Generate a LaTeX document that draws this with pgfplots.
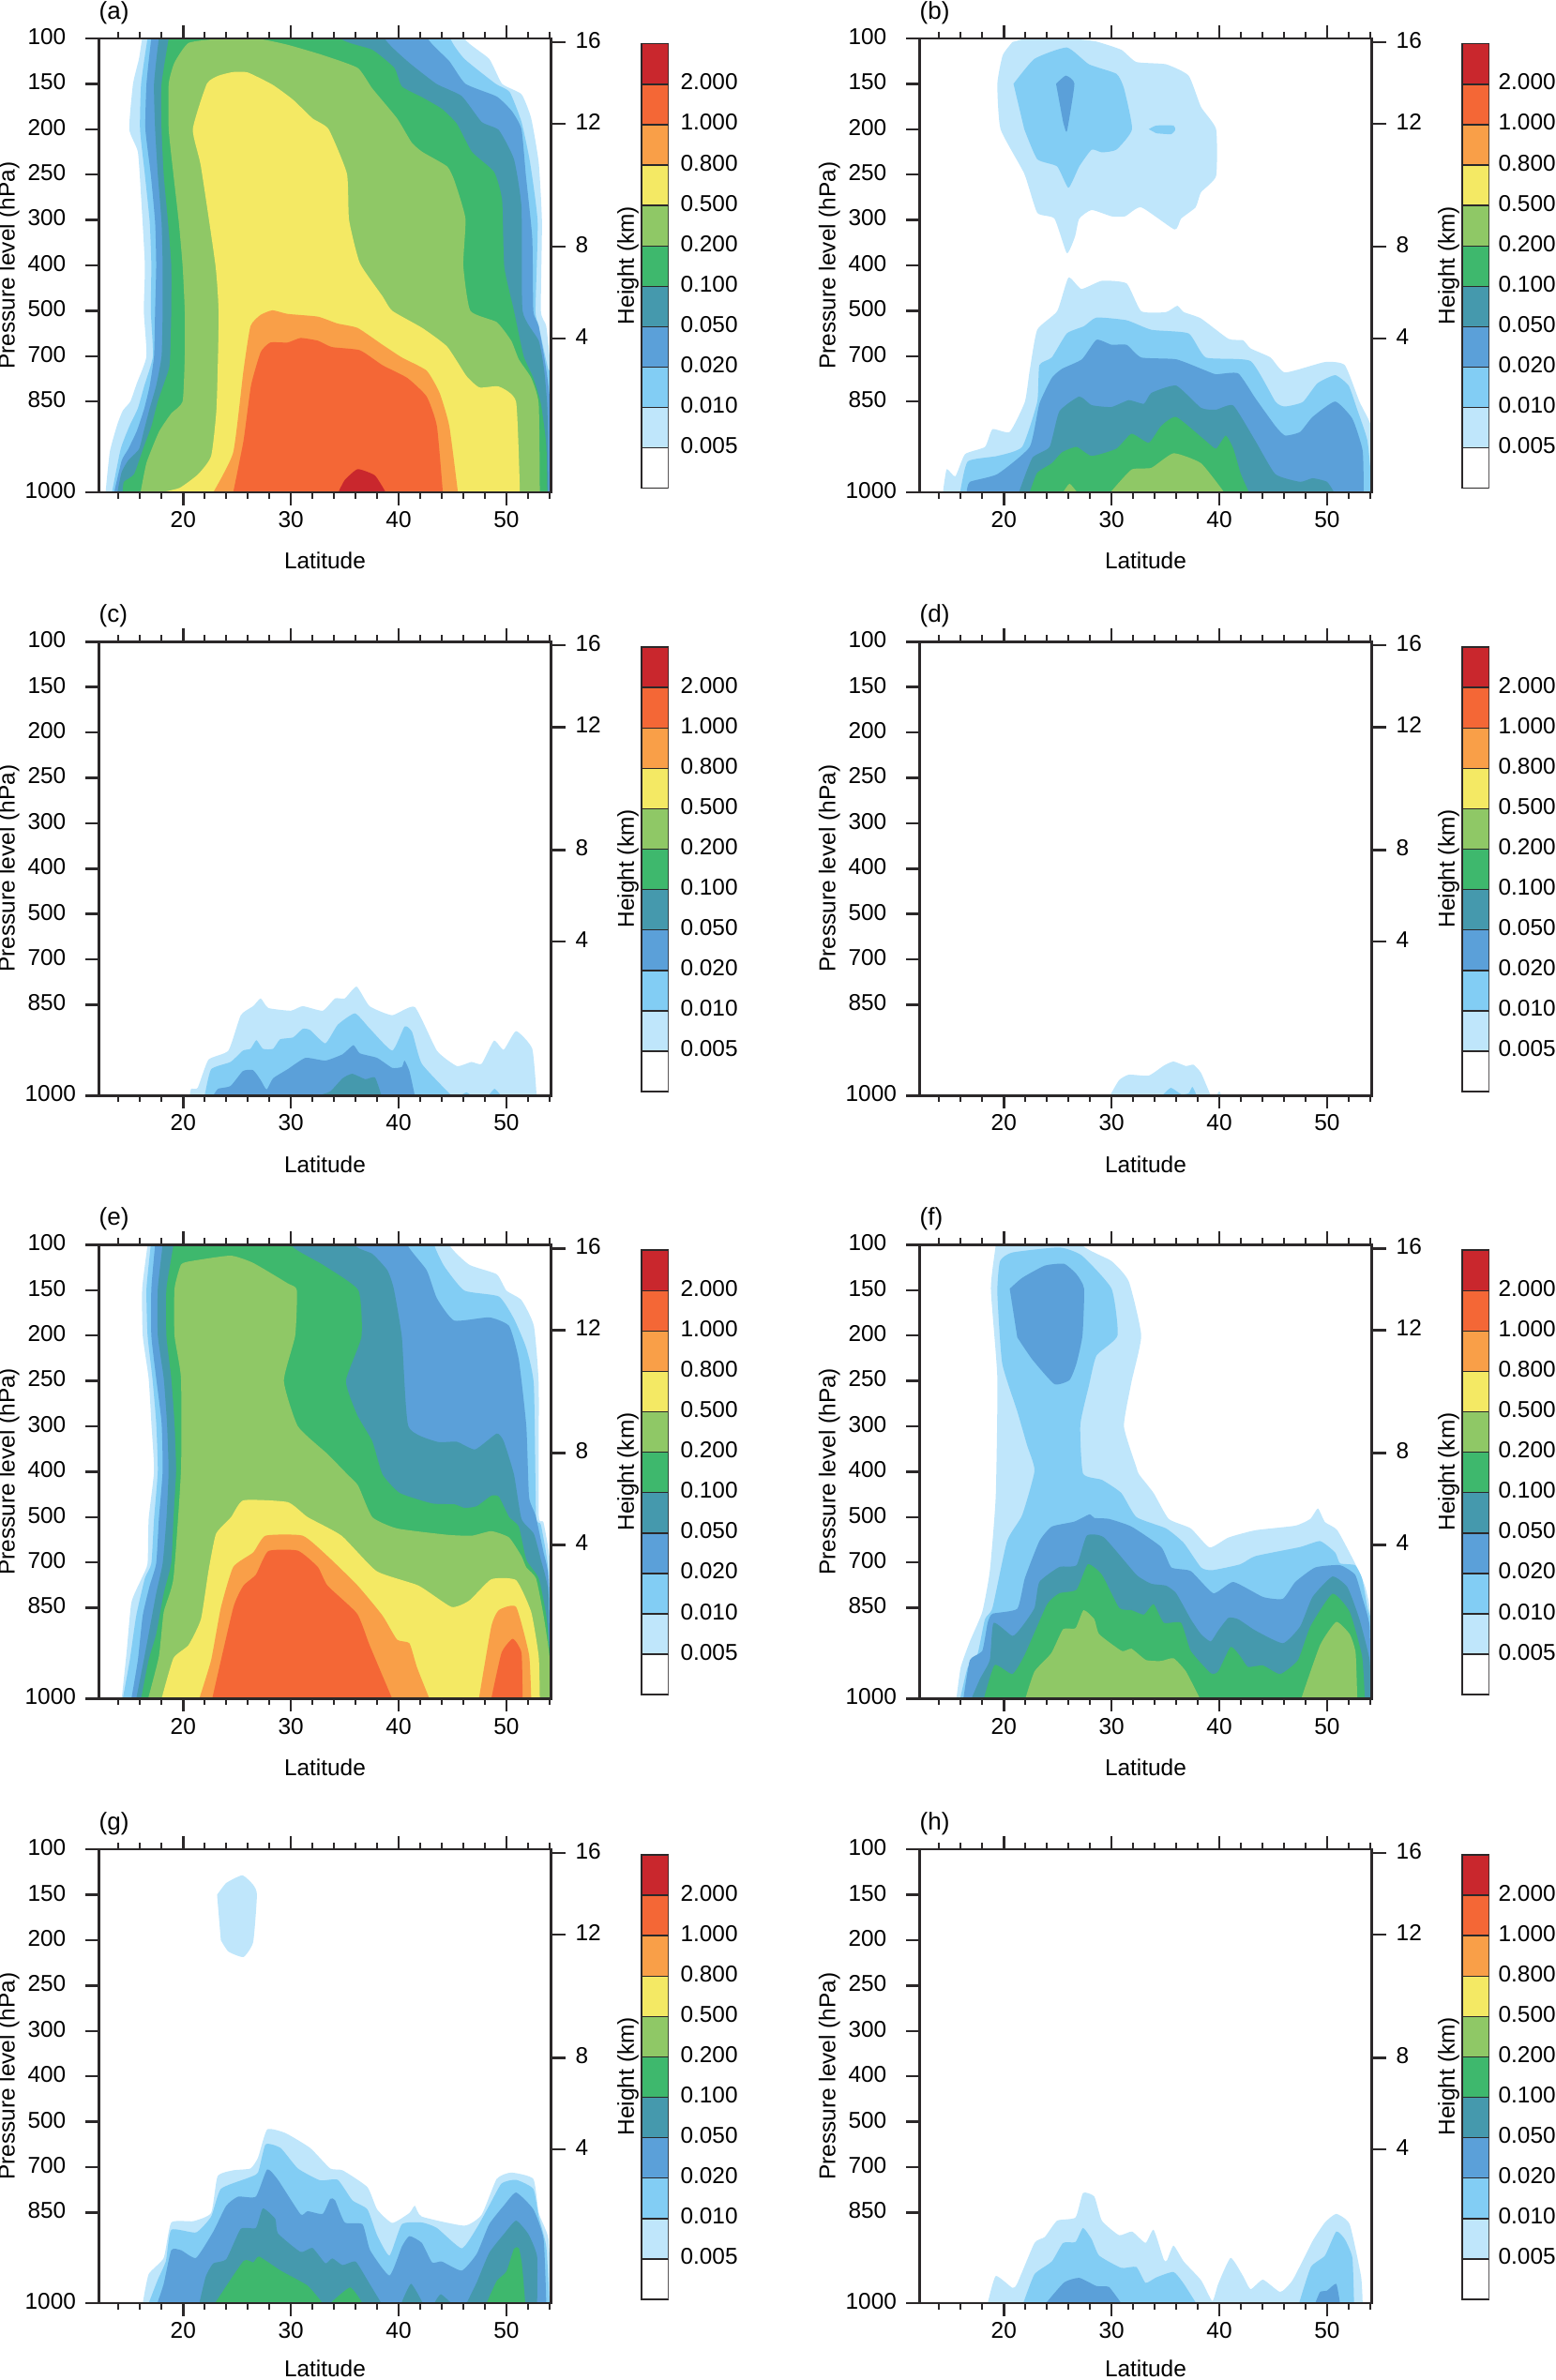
\documentclass[border=0pt]{standalone}
\usepackage{fontspec}
\setmainfont{Liberation Sans}
\usepackage{pgfplots}
\pgfplotsset{compat=1.18}

\definecolor{ink}{HTML}{2B2829}
\definecolor{c005}{HTML}{BFE6FB}
\definecolor{c010}{HTML}{82CDF4}
\definecolor{c020}{HTML}{5BA0D9}
\definecolor{c050}{HTML}{4599AD}
\definecolor{c100}{HTML}{3EB86D}
\definecolor{c200}{HTML}{8FC866}
\definecolor{c500}{HTML}{F4E964}
\definecolor{c800}{HTML}{F99F48}
\definecolor{c1k}{HTML}{F46736}
\definecolor{c2k}{HTML}{C9272D}

% one filled contour level; x is latitude, y is the position on the level axis
% (100 hPa = 0, 150 = 1, ... 850 = 8, 1000 = 10; -1 is outside the frame, above it)
\newcommand\lv[2]{\addplot[draw=none,fill=#1,mark=none,forget plot,smooth,tension=.3] coordinates {#2} -- cycle;}

\newcommand\panelA{
\lv{c005}{(54.5,10)(54.5,7.4)(54.15,7.3)(53.7,6.34)(53.2,6)(53.3,4.05)(53,2.74)(52.3,1.76)(51.4,1.23)(49.6,1)(48.4,.45)(46.1,0)(45,-1)(17,-1)(16.2,0)(15.9,.45)(15.35,1)(15,2)(15.8,2.5)(16.1,3.5)(16.45,5)(16.35,6)(16.6,7)(15.7,7.6)(15.1,8)(14.4,8.2)(13.9,8.5)(13.2,9.1)(12.8,10)}
\lv{c010}{(54.5,10)(54.5,7.4)(53.9,7.3)(53,6.34)(52.7,6)(52.9,4.05)(52.2,2.74)(51.4,1.84)(50.3,1.18)(49,1)(46.1,.45)(44.8,0)(44,-1)(17.5,-1)(16.7,0)(16.1,1)(16,2)(16.45,3)(16.9,4.05)(17.05,5)(17,6)(17.2,7)(16.4,7.65)(15.8,8.15)(15,8.55)(14.2,9.05)(13.4,10)}
\lv{c020}{(54.1,10)(54.1,8.15)(53.7,7.3)(53,6.34)(52.5,6)(52.4,4.4)(51.8,3)(51.4,2)(50.5,1.6)(49.1,1.28)(46.2,1)(44.7,.5)(42.7,0)(41.5,-1)(17.8,-1)(17.05,0)(16.6,1)(16.5,2)(17,3)(17.4,4.05)(17.5,5)(17.4,6)(17.3,7)(16.9,7.65)(16.4,8.15)(15.7,8.65)(14.9,9.05)(14.3,9.3)(13.6,10)}
\lv{c050}{(53.9,10)(53.8,8.15)(53.5,7.3)(53,6.66)(51.5,6)(51.4,3.72)(50.7,2.66)(49.3,2.02)(47.7,1.84)(45.85,1.27)(43.5,1)(40.8,.5)(38.7,0)(37.5,-1)(18.5,-1)(17.75,0)(17.3,1)(17.4,2)(17.65,3)(18,4.05)(18.1,5)(18.1,6)(18,7)(17.5,7.65)(16.9,8.15)(16.35,8.65)(15.9,9.05)(14.9,9.3)(14.3,9.55)(13.9,10)}
\lv{c100}{(53.8,10)(53.7,8.95)(53.2,8.05)(52.5,7.48)(51.6,7)(50.7,6)(49.8,5.03)(49.6,3.56)(48.85,2.94)(46.8,2.5)(45.4,1.88)(44,1.55)(42.2,1.3)(40.3,1.06)(39.6,.65)(37.55,.25)(34.6,0)(33,-1)(19.2,-1)(18.66,0)(18,1)(18,2)(18.2,3)(18.6,4.05)(18.9,5)(18.9,6)(18.8,7)(18.66,7.3)(17.65,8)(17.05,8.55)(16.35,9)(15.45,9.6)(14.5,9.77)(14.4,10)}
\lv{c200}{(16.05,10)(16.6,9.35)(17.75,8.67)(18.9,8.26)(19.95,8)(20.15,7)(20.15,6)(19.95,5)(19.6,4.05)(19.1,3)(18.66,2)(18.66,1)(19.2,.53)(20.5,.1)(23.3,.01)(27,.01)(29.7,.14)(33,.37)(36.2,.65)(37.55,1.1)(39.85,1.76)(41.2,2.29)(42.2,2.5)(44.5,2.82)(45.2,3.15)(46.2,3.97)(46,5)(46.65,6)(49.1,6.25)(50.45,6.66)(51.15,7.07)(52.3,7.48)(53,8.05)(53.1,10)}
\lv{c500}{(18,10)(19.7,9.9)(21.4,9.6)(22.6,9.2)(23.1,8.14)(23.3,6.1)(23,5)(21.65,2.82)(20.9,2)(22.2,1)(23.3,.82)(24.65,.74)(26,.75)(28.3,1.02)(30.2,1.35)(32,1.76)(33.5,2)(35.2,2.98)(35.4,4)(36.4,4.95)(38.5,5.68)(39.4,6)(42.2,6.38)(44.5,6.79)(46.3,7.44)(47.5,7.69)(49.3,7.67)(50.9,8.01)(51.25,10)}
\lv{c800}{(22.8,10)(24.65,9.12)(25.6,7.32)(26.25,6.34)(27.2,6.09)(28.3,5.99)(29.7,6.07)(32.5,6.13)(34.3,6.28)(36.2,6.38)(38.5,6.75)(40.3,7.03)(42.6,7.32)(43.8,7.81)(44.7,8.54)(45.5,10)}
\lv{c1k}{(24.65,10)(25.6,8.87)(26.3,7.65)(27.2,6.91)(28.1,6.7)(29.7,6.7)(30.9,6.6)(32.5,6.66)(33.8,6.8)(36.4,6.87)(38.5,7.2)(40.8,7.48)(42.6,7.89)(43.55,8.54)(44.1,10)}
\lv{c2k}{(34.4,10)(35,9.73)(36.2,9.49)(37.8,9.63)(38.8,10)}
}

\newcommand\panelB{
\lv{c005}{(20.8,.08)(19.9,.37)(19.4,1)(19.7,2)(21.9,2.98)(23.1,3.84)(24.7,3.97)(25.85,4.73)(26.6,4.37)(27,3.97)(28.15,3.78)(30,3.92)(31.25,3.92)(32.75,3.72)(35.85,4.21)(36.45,3.97)(37.8,3.72)(38.3,3.39)(39.7,3.03)(39.7,2)(38.3,1.51)(37.15,.82)(35.05,.57)(32.3,.52)(30.9,.25)(28.6,.07)(26.8,.02)(21.7,.02)}
\lv{c010}{(20.9,1)(22.85,.45)(25.85,.2)(27.9,.57)(30.45,.78)(31.15,1.1)(31.9,2)(30.45,2.45)(29.1,2.51)(28.15,2.45)(27,2.82)(26,3.29)(24.95,2.82)(23.1,2.66)(21.9,2)}
\lv{c010}{(33.45,2)(34.15,1.92)(35.75,1.92)(35.9,2.02)(35.5,2.11)(34.15,2.09)}
\lv{c020}{(24.85,1)(25.75,.82)(26.55,1)(25.9,2)(25.75,2.04)(25.5,1.84)}
\lv{c005}{(14.35,10)(14.7,9.49)(15.5,9.65)(16.4,9.16)(18.25,9)(18.95,8.61)(20.55,8.67)(21.95,8.01)(22.4,7.32)(23.1,6.42)(24.95,6.01)(26,5.27)(27.2,5.52)(29.1,5.34)(31.4,5.4)(32.75,6.01)(35.05,6.03)(36.1,5.89)(36.7,6.03)(38.3,6.17)(40.85,6.62)(42.2,6.65)(42.9,6.83)(44.75,7.03)(46.1,7.36)(49.8,7.13)(51.65,7.2)(53,8)(54.2,8.63)(54.4,10)}
\lv{c010}{(15.95,10)(16.65,9.32)(19.4,9.2)(21.7,9)(23.1,8.01)(23.3,7.2)(24.45,7.03)(25.85,6.5)(27.45,6.34)(28.6,6.15)(31.4,6.21)(33.7,6.42)(37.15,6.5)(38.75,7.03)(42.9,7.11)(45.2,8)(46.1,8.11)(47.75,8.01)(49.1,7.6)(50.75,7.42)(52,7.65)(52.8,8.18)(53.75,8.87)(54.2,10)}
\lv{c020}{(16.55,10)(16.85,9.77)(19.4,9.6)(22.4,9)(23.3,8.05)(24.45,7.48)(25.4,7.28)(27.25,7.07)(28.6,6.64)(30,6.75)(31.4,6.75)(32.75,7.03)(36,7.07)(38.75,7.32)(39.7,7.4)(41.75,7.38)(43.35,7.93)(45.2,8.54)(46.1,8.75)(47.5,8.67)(48.65,8.34)(50.75,8)(52.35,8.38)(53.3,9.08)(53.4,10)}
\lv{c050}{(21.4,10)(22.65,9.24)(24.25,9)(25.15,8.22)(27,7.89)(28.15,8.08)(30,8.12)(31.6,7.97)(33,8.05)(33.7,7.81)(36,7.65)(38.3,8.14)(39.7,8.18)(41.3,8.09)(43.35,8.87)(45.2,9.6)(47.5,9.77)(48.65,9.69)(50,9.77)(50.65,10)}
\lv{c100}{(22.4,10)(23.1,9.57)(24.45,9.36)(25.4,9.12)(26.75,9)(28.15,9.2)(30.45,9.04)(31.85,8.71)(33.45,8.91)(34.6,8.54)(36,8.34)(38.75,8.87)(39.7,9.04)(40.6,8.75)(41.3,9.04)(42,9.6)(42.75,10)}
\lv{c200}{(29.9,10)(31.85,9.5)(33.7,9.46)(35.75,9.14)(38.3,9.36)(40.45,10)}
\lv{c200}{(25.5,10)(26.1,9.81)(26.8,10)}
}

\newcommand\panelC{
\lv{c005}{(20.6,10)(20.75,9.85)(21.35,9.83)(22.35,9.21)(24.2,9.01)(25.35,8.23)(26.5,8.03)(27.2,7.86)(27.9,8.07)(30,8.13)(31.1,8.03)(32.95,8.13)(34.1,7.86)(35,7.86)(36.1,7.6)(37.3,8.03)(39.4,8.23)(41.5,8.05)(43.55,9.01)(45.4,9.35)(46.75,9.26)(47.7,9.3)(48.85,8.79)(49.75,8.99)(50.9,8.58)(52.4,8.97)(52.8,10)}
\lv{c010}{(22,10)(22.6,9.42)(24.4,9.26)(25.55,9.01)(26.25,8.97)(26.8,8.78)(27.4,8.97)(28.35,8.97)(29,8.76)(30.2,8.72)(31.1,8.53)(31.8,8.56)(33.2,8.85)(34.35,8.44)(35.95,8.19)(37.3,8.52)(39.4,9.01)(40.55,8.48)(41.25,8.6)(42.15,9.3)(44.9,10)}
\lv{c010}{(45.75,10)(46.3,9.93)(46.75,10)}
\lv{c010}{(48.35,10)(48.9,9.85)(49.5,10)}
\lv{c020}{(22.8,10)(23.25,9.85)(24.4,9.79)(25.55,9.46)(26.5,9.44)(27.2,9.66)(27.75,9.87)(28.35,9.62)(29.7,9.42)(31.35,9.17)(33.2,9.23)(34.8,9.09)(35.8,8.89)(36.4,9.07)(38,9.17)(39.4,9.39)(40.3,9.37)(40.55,9.23)(41,9.46)(41.5,10)}
\lv{c050}{(32.5,10)(33.65,9.91)(34.8,9.62)(35.7,9.52)(36.9,9.64)(37.8,9.6)(38.4,10)}
}

\newcommand\panelD{
\lv{c005}{(29.85,10)(30.7,9.66)(31.6,9.54)(33.45,9.56)(34.85,9.34)(35.75,9.25)(36.9,9.35)(37.6,9.32)(38.3,9.5)(39.2,10)}
\lv{c005}{(39.7,10)(40,9.91)(40.2,10)}
\lv{c010}{(34.7,10)(35.5,9.83)(36.45,9.97)(37.15,9.95)(37.5,9.81)(37.9,10)}
}

\newcommand\panelE{
\lv{c005}{(54.5,10)(54.15,7.19)(53.45,6.12)(53,5.96)(53,3.1)(52.55,1.79)(51.4,1.22)(50,1.01)(49.1,.65)(46.55,.44)(44.7,0)(43.5,-1)(17.2,-1)(16.7,0)(16.2,.97)(16.25,2)(16.8,2.94)(17.05,3.92)(17.3,4.98)(16.8,6.04)(16.7,7.02)(16.15,7.35)(15.2,7.88)(14.75,8.99)(14.3,10)}
\lv{c010}{(54.5,10)(53.9,7.19)(53.2,6.17)(52.75,5.96)(52.55,3.1)(51.85,2.28)(50.7,1.63)(49.3,1.14)(46.1,1.01)(44.25,.48)(43.3,0)(42.5,-1)(17.4,-1)(17,0)(16.6,.97)(16.7,2)(17.15,2.94)(17.5,3.92)(17.65,4.98)(17.3,6.04)(17.05,7.02)(16.45,7.35)(15.65,8.17)(15.05,9.15)(14.4,10)}
\lv{c020}{(54.1,10)(53.9,7.35)(53.45,6.78)(52.7,5.96)(52.1,5.55)(51.85,4)(51.15,2.53)(50.25,1.79)(48.4,1.6)(45.15,1.67)(43.55,1.18)(42.6,.56)(40.8,0)(39.5,-1)(17.8,-1)(17.4,0)(17.05,.97)(17.05,2)(17.5,2.94)(18,3.92)(18.1,4.98)(17.75,6.04)(17.5,7.02)(16.9,7.51)(16.25,8.17)(15.8,9.15)(15.2,10)}
\lv{c050}{(53.9,10)(53.9,7.68)(53.2,6.94)(52.55,6.37)(51.4,6.04)(50.7,5.06)(49.75,4.33)(49.1,4.16)(47.1,4.51)(45.4,4.34)(43.55,4.34)(40.9,4)(40.3,2.04)(39.55,.97)(38.95,.56)(37.55,.2)(35.9,0)(34.5,-1)(18.5,-1)(18.1,0)(17.65,.97)(17.65,2)(18.2,2.94)(18.5,3.92)(18.65,4.98)(18.45,6.04)(18.1,7.02)(17.5,7.68)(16.8,8.58)(16.35,9.15)(15.65,10)}
\lv{c100}{(54.05,10)(54.05,9.07)(53.7,8.17)(53,7.35)(51.85,6.94)(51.15,6.21)(50.25,6)(49.3,5.55)(48.6,5.53)(47.25,5.76)(46.1,5.8)(45.2,5.72)(43.1,5.7)(40.1,5.47)(38.5,5.06)(37.55,4.33)(36.15,3.75)(35.1,3)(36.55,2.02)(36.25,1)(32.95,.44)(29.95,0)(28.5,-1)(19.5,-1)(19.1,0)(18.45,.97)(18.45,2)(18.9,2.94)(19.2,3.92)(19.35,4.98)(19.1,6.04)(18.9,7.02)(18.2,7.68)(17.5,8.58)(16.8,9.15)(16.1,10)}
\lv{c200}{(16.75,10)(17.75,9.07)(18.2,8.09)(19.1,7.35)(19.8,4.98)(19.8,2.94)(19.2,2)(19.2,.97)(19.8,.44)(20.75,.36)(24.4,.24)(26.5,.4)(29.7,.85)(30.55,1)(30.4,2)(29.35,3)(30.65,4)(33.4,4.61)(35.25,5.06)(36.25,5.31)(37.55,6)(39.85,6.25)(44.5,6.39)(46.8,6.41)(48.6,6.31)(50.25,6.45)(51.4,6.86)(51.85,7.11)(52.75,7.35)(53.45,8.17)(54,9.07)(54.15,10)}
\lv{c500}{(18,10)(19.1,9.11)(20.5,8.82)(21.65,8.25)(22.35,7.19)(23.05,6.37)(24.45,6)(25.6,5.63)(29.7,5.67)(31.55,6)(34.7,6.41)(37.95,7.19)(41.85,7.51)(44.9,7.98)(46.55,7.84)(48.6,7.37)(50.9,7.39)(52.3,8.09)(53,9.07)(53.1,10)}
\lv{c800}{(21.5,10)(22.6,9.15)(23.5,8)(24.65,7.1)(26.5,6.78)(27.65,6.41)(31.1,6.41)(33.4,6.86)(36.2,7.51)(38.5,8.17)(39.85,8.7)(41,8.78)(41.7,9.31)(42.85,10)}
\lv{c800}{(47.45,10)(48.6,8.41)(49.3,8.05)(50.9,7.98)(52.1,9.03)(52.3,10)}
\lv{c1k}{(22.7,10)(24.65,8)(25.6,7.51)(26.75,7.27)(27.9,6.75)(30.65,6.74)(32.5,7.1)(33.4,7.51)(36.15,8.13)(37.3,8.82)(39.4,10)}
\lv{c1k}{(48.6,10)(49.55,8.99)(50.6,8.68)(51.4,8.99)(51.5,10)}
}

\newcommand\panelF{
\lv{c005}{(15.6,10)(16,9.31)(16.85,8.74)(18,8.09)(18.7,7.19)(19.25,5.55)(19.4,2.94)(18.8,.97)(19.25,0)(19.6,-1)(26,-1)(27.25,0)(30,.36)(31.6,.81)(32.75,2)(31.85,3.02)(31.15,4)(32.3,4.9)(32.55,5.06)(33.9,5.47)(35.3,6.04)(37.35,6.25)(39.1,6.67)(40.85,6.45)(43.35,6.29)(47.05,6.19)(48.45,6.04)(49.15,5.81)(49.8,6.11)(50.95,6.29)(52.6,7.02)(53.5,7.51)(54,8.09)(54.4,10)}
\lv{c010}{(15.95,10)(16.65,9.31)(17.55,9.03)(18.25,8.25)(18.95,8)(20.3,6.53)(21.7,5.96)(22.85,4.98)(22.15,4.41)(21.25,3.67)(19.85,2.61)(19.4,1.05)(19.65,.36)(20.8,.17)(25.15,.06)(27.25,.24)(30,.97)(30.55,2)(28.6,2.44)(27.9,3.1)(27.1,3.96)(27.35,5.04)(29.1,5.18)(30.9,5.47)(32.3,6)(35.05,6.25)(36.7,6.57)(38.3,7.11)(39.35,7.17)(41.95,7.04)(43.35,6.86)(47.5,6.66)(49.35,6.53)(50.75,6.78)(51.2,7.02)(52.6,7.06)(53.25,7.35)(53.75,8)(54.2,8.41)(54.2,10)}
\lv{c020}{(20.55,.97)(21.7,.73)(23.8,.46)(25.6,.42)(26.75,.65)(27.45,.97)(27.3,2)(26.75,2.61)(26.1,2.98)(24.7,3.07)(22.65,2.53)(21.25,2.04)}
\lv{c020}{(16.25,10)(16.85,9.15)(18,8.95)(18.5,8.33)(18.95,8.13)(21.25,8.02)(21.95,7.35)(23.3,6.53)(24.45,6.21)(26.55,6.1)(27.95,5.94)(28.4,6.02)(29.75,6.04)(31.85,6.21)(34.6,6.66)(35.55,7.11)(37.35,7.19)(39.45,7.68)(41.3,7.43)(44.05,7.76)(45.9,7.8)(47.05,7.43)(48.9,7.11)(51.2,7.06)(52.6,7.27)(53.25,7.76)(53.95,8.41)(54.05,10)}
\lv{c050}{(17,10)(17.8,9.56)(18.7,9.15)(19.05,8.33)(20.8,8.62)(21.7,8.41)(22.85,8)(23.3,7.43)(25.15,7.1)(26.75,7.06)(27.7,6.41)(29.3,6.45)(32.3,7.27)(33.7,7.47)(35.05,7.51)(36,7.68)(37.35,8.25)(38.3,8.58)(39.2,8.74)(39.9,8.5)(40.85,8.22)(41.75,8.25)(43.35,8.5)(45.9,8.78)(47.5,8.41)(48.65,7.76)(50.5,7.31)(51.9,7.55)(53,8.25)(53.95,9.15)(54.05,10)}
\lv{c100}{(18.15,10)(19.15,9.26)(20.8,9.46)(21.95,9.03)(24,7.93)(25.15,7.68)(26.75,7.6)(27.8,7.04)(29.1,7.27)(30.7,8)(31.85,8.05)(33,8.15)(33.9,7.92)(34.85,8.33)(36.45,8.33)(37.35,8.95)(39.2,9.44)(39.9,9.4)(41.05,8.86)(41.95,9.07)(42.65,9.3)(44.05,9.27)(45.65,9.46)(47.3,9.15)(48.45,8.41)(50.5,7.69)(52.1,8.09)(53.25,9.07)(53.5,10)}
\lv{c200}{(22,10)(22.85,9.4)(24.4,9)(25.5,8.47)(26.65,8.45)(27.4,8.05)(28.4,8.25)(28.85,8.58)(30.95,8.95)(31.85,8.9)(33.2,9.15)(34.6,9.17)(35.75,9.11)(36.9,9.4)(38.2,10)}
\lv{c200}{(47.6,10)(49.35,8.82)(50.85,8.31)(52.1,8.58)(52.65,8.99)(52.8,10)}
}

\newcommand\panelG{
\lv{c005}{(23.15,1)(24,.74)(25.5,.57)(26.5,.78)(26.85,1)(26.5,2.04)(25.6,2.37)(24.2,2.25)(23.5,2)}
\lv{c005}{(16.25,10)(16.8,9.36)(18.2,9)(18.9,8.22)(20.95,8.19)(22.6,8.01)(23.2,7.2)(24.65,7.07)(26.25,7.03)(26.95,6.79)(27.8,6.17)(29.5,6.25)(31.8,6.58)(33.65,7.03)(34.8,7.07)(37.1,7.44)(38,7.93)(39.4,8.23)(41,8.01)(41.5,7.85)(42.15,8.09)(46.1,8.29)(47.7,8.05)(49.1,7.26)(50.45,7.12)(52.5,7.26)(53,8.01)(53.9,8.58)(54.2,10)}
\lv{c010}{(16.8,10)(17.65,9.48)(18.4,9.07)(18.9,8.38)(21.2,8.44)(22.6,8.09)(23.5,7.48)(26,7.24)(26.95,7.12)(27.65,6.5)(29.05,6.58)(30.65,7.03)(32.7,7.29)(34.35,7.28)(35.7,7.73)(37.1,7.93)(38,8.5)(39.15,8.95)(40.3,8.26)(42.15,8.22)(43.55,8.34)(45.85,8.79)(47.25,8.34)(48.4,7.85)(49.55,7.36)(50.9,7.28)(52.5,7.48)(53,8.09)(53.7,8.75)(54,10)}
\lv{c020}{(17.6,10)(18.2,9.57)(18.9,8.83)(19.8,8.83)(21.2,9)(22.8,8.42)(24,7.85)(25.1,7.65)(26.75,7.65)(27.8,7.05)(28.8,7.28)(30.9,8.04)(31.55,7.97)(32.95,8.03)(33.65,7.7)(34.1,7.73)(35,8.22)(36.65,8.26)(37.35,8.83)(39.15,9.39)(40.3,8.75)(41,8.52)(42.15,8.67)(43.1,9.1)(44,9.08)(45.85,9.28)(47.25,8.91)(48.4,8.26)(49.75,7.85)(50.9,7.56)(52.5,7.93)(53.45,8.58)(53.7,10)}
\lv{c050}{(21.5,10)(22.1,9.41)(22.8,9.12)(24,9.03)(25.35,8.36)(26.75,8.34)(27.4,7.91)(28.55,8.14)(28.8,8.46)(30.9,8.87)(32,8.78)(33.2,9.12)(33.85,9.01)(34.8,9.16)(36,9.08)(37.1,9.49)(38.4,10)}
\lv{c050}{(40.25,10)(41.15,9.57)(42.25,10)}
\lv{c050}{(43.3,10)(43.9,9.8)(44.9,10)}
\lv{c050}{(46.3,10)(47.25,9.54)(48.4,8.89)(49.75,8.48)(50.9,8.18)(52.05,8.48)(52.85,8.97)(52.85,10)}
\lv{c100}{(22.95,10)(25.6,9.07)(26.5,9.1)(27.05,8.97)(29.05,9.28)(31.55,9.61)(32.95,10)}
\lv{c100}{(33.65,10)(35.5,9.65)(36.65,10)}
\lv{c100}{(48.15,10)(49.1,9.51)(50,9.3)(50.7,8.8)(51.15,8.78)(51.45,9.15)(51.75,10)}
}

\newcommand\panelH{
\lv{c005}{(18.5,10)(19.25,9.4)(20.8,9.66)(21.25,9.56)(22.85,8.67)(23.8,8.54)(24.95,8.18)(26.65,8.11)(27.35,7.57)(28.4,7.65)(29.1,8.18)(30.7,8.5)(31.9,8.42)(33.15,8.67)(33.9,8.38)(34.85,9.04)(35.15,9.05)(35.75,8.73)(36.7,9.08)(38.3,9.49)(39.35,9.95)(39.9,9.57)(41.05,9)(42.2,9.4)(42.9,9.69)(44.05,9.48)(45.65,9.75)(46.8,9.49)(48.65,8.63)(49.8,8.22)(50.85,8.03)(52.1,8.26)(53.15,9.4)(53.3,10)}
\lv{c010}{(21.8,10)(22.85,9.36)(24.45,9.08)(25.5,8.67)(26.65,8.65)(27.35,8.34)(28.15,8.59)(28.85,8.95)(30.9,9.22)(32.3,9.2)(33.15,9.55)(34.15,9.43)(35.75,9.31)(36.7,9.57)(37.85,10)}
\lv{c010}{(47.4,10)(48.5,9.2)(49.8,8.95)(50.85,8.42)(51.65,8.59)(52.35,9)(52.5,10)}
\lv{c020}{(23.9,10)(25.6,9.54)(27,9.44)(28.6,9.62)(29.75,9.64)(30.9,10)}
\lv{c020}{(48.9,10)(49.35,9.75)(50,9.72)(50.85,9.57)(51.2,10)}
}

\tikzset{txt/.style={font=\fontsize{12.2}{14}\selectfont,text=black}}

\pgfplotsset{
  framed/.style={
    scale only axis,width=241.15pt,height=242pt,anchor=south west,
    xmin=12.17,xmax=54.15,ymin=0,ymax=10,y dir=reverse,
    axis line style={line width=1.25pt,ink},
    tick style={ink,line width=1.25pt},
    tick align=outside,
  },
  panel/.style={
    framed,axis on top,
    major tick length=7pt,minor tick length=3.5pt,
    minor tick style={line width=.9pt},
    xtick={20,30,40,50},xticklabels={20,30,40,50},
    minor xtick={14,16,18,22,24,26,28,32,34,36,38,42,44,46,48,52,54},
    xtick pos=both,xticklabel pos=lower,
    ytick={0,1,2,3,4,5,6,7,8,10},
    yticklabels={100,150,200,250,300,400,500,700,850,{\makebox[21.8pt][l]{1000}}},
    ytick pos=left,
    tick label style={txt},label style={txt},
    xticklabel style={yshift=.2pt},
    yticklabel style={xshift=-7pt,yshift=1pt},
    xlabel=Latitude,
    ylabel={Pressure level (hPa)},
    ylabel style={at={(axis description cs:0,.5)},anchor=center,yshift=48pt},
    title style={font=\fontsize{13}{15}\selectfont,at={(axis description cs:0,1)},anchor=west,yshift=7.75pt,inner xsep=0pt},
  },
  hgt/.style={
    framed,axis x line=none,axis y line*=right,
    major tick length=7.5pt,
    ytick={.08,1.88,4.59,6.61},yticklabels={16,12,8,4},
    tick label style={txt},label style={txt},
    yticklabel style={xshift=2pt,yshift=1pt},
    ylabel={Height (km)},
    ylabel style={at={(axis description cs:1,.5)},anchor=center,yshift=-41pt},
  },
  cbar/.style={
    scale only axis,width=14.25pt,height=237pt,anchor=south west,
    xmin=0,xmax=1,ymin=0,ymax=11,axis line style={line width=.7pt,ink},
    xtick=\empty,ytick={1,...,10},
    yticklabels={0.005,0.010,0.020,0.050,0.100,0.200,0.500,0.800,1.000,2.000},
    ytick pos=right,yticklabel pos=right,major tick length=0pt,
    tick label style={txt},
  },
  cell/.style={draw=ink,line width=.7pt,mark=none},
}

\newcommand\cbarcells{
\addplot[cell,fill=white] coordinates {(0,0)(1,0)(1,1)(0,1)} -- cycle;
\addplot[cell,fill=c005] coordinates {(0,1)(1,1)(1,2)(0,2)} -- cycle;
\addplot[cell,fill=c010] coordinates {(0,2)(1,2)(1,3)(0,3)} -- cycle;
\addplot[cell,fill=c020] coordinates {(0,3)(1,3)(1,4)(0,4)} -- cycle;
\addplot[cell,fill=c050] coordinates {(0,4)(1,4)(1,5)(0,5)} -- cycle;
\addplot[cell,fill=c100] coordinates {(0,5)(1,5)(1,6)(0,6)} -- cycle;
\addplot[cell,fill=c200] coordinates {(0,6)(1,6)(1,7)(0,7)} -- cycle;
\addplot[cell,fill=c500] coordinates {(0,7)(1,7)(1,8)(0,8)} -- cycle;
\addplot[cell,fill=c800] coordinates {(0,8)(1,8)(1,9)(0,9)} -- cycle;
\addplot[cell,fill=c1k] coordinates {(0,9)(1,9)(1,10)(0,10)} -- cycle;
\addplot[cell,fill=c2k] coordinates {(0,10)(1,10)(1,11)(0,11)} -- cycle;
}

% bottom row sits tight against the page edge
\newcommand\latshift{-36.5pt}

% x and y of the frame's lower left corner, panel letter, contours, gap of the colour bar's labels
\newcommand\panel[5]{
\begin{axis}[panel,at={(#1,#2)},title={(#3)},
  xlabel style={at={(axis description cs:.5,0)},anchor=center,yshift=\latshift}]
#4
\end{axis}
\begin{axis}[hgt,at={(#1,#2)}]
\end{axis}
\begin{axis}[cbar,at={(#1+289.35pt,#2+2.1pt)},yticklabel style={xshift=#5,yshift=1.2pt}]
\cbarcells
\end{axis}
}

\begin{document}
\begin{tikzpicture}
\useasboundingbox (0,0) rectangle (829.5pt,1269pt);
\panel{52.65pt}{1006.5pt}{a}{\panelA}{3pt}
\panel{490.15pt}{1006.5pt}{b}{\panelB}{1.5pt}
\panel{52.65pt}{684.85pt}{c}{\panelC}{3pt}
\panel{490.15pt}{684.85pt}{d}{\panelD}{1.5pt}
\panel{52.65pt}{363.3pt}{e}{\panelE}{3pt}
\panel{490.15pt}{363.3pt}{f}{\panelF}{1.5pt}
\renewcommand\latshift{-34.6pt}
\panel{52.65pt}{40.9pt}{g}{\panelG}{3pt}
\panel{490.15pt}{40.9pt}{h}{\panelH}{1.5pt}
\end{tikzpicture}
\end{document}
